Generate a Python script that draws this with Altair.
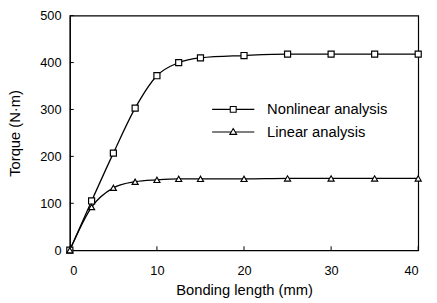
import altair as alt
import pandas as pd

# Data
bonding_length = [0, 2.5, 5, 7.5, 10, 12.5, 15, 20, 25, 30, 35, 40]
nonlinear_torque = [0, 105, 207, 303, 372, 400, 410, 415, 418, 418, 418, 418]
linear_torque = [0, 92, 133, 146, 150, 152, 152, 152, 153, 153, 153, 153]
series_names = ["Nonlinear analysis", "Linear analysis"]
x_ticks = [0, 10, 20, 30, 40]
y_ticks = [0, 100, 200, 300, 400, 500]

rows = []
for name, vals in zip(series_names, [nonlinear_torque, linear_torque]):
    for x, v in zip(bonding_length, vals):
        rows.append({"length": x, "torque": v, "series": name})
df = pd.DataFrame(rows)

FONT = "Liberation Sans"
W, H = 355, 239

xscale = alt.Scale(domain=[0, 40], nice=False)
yscale = alt.Scale(domain=[0, 500], nice=False)

x_axis = alt.Axis(title="Bonding length (mm)", values=x_ticks, grid=False,
                  tickSize=0, labelPadding=15, titlePadding=5,
                  labelFontSize=13, titleFontSize=15, titleFontWeight="normal",
                  labelFont=FONT, titleFont=FONT, domainColor="black",
                  labelColor="black", titleColor="black")
y_axis = alt.Axis(title="Torque (N·m)", values=y_ticks, grid=False,
                  tickSize=0, labelPadding=9, titlePadding=18,
                  labelFontSize=13, titleFontSize=15, titleFontWeight="normal",
                  labelFont=FONT, titleFont=FONT, domainColor="black",
                  labelColor="black", titleColor="black")

x_enc = alt.X("length:Q", scale=xscale, axis=x_axis)
y_enc = alt.Y("torque:Q", scale=yscale, axis=y_axis)

base = alt.Chart(df)

lines = base.mark_line(interpolate="monotone", color="black", strokeWidth=1.3).encode(
    x=x_enc, y=y_enc, detail="series:N"
)

points = base.mark_point(filled=True, fill="white", stroke="black", strokeWidth=1.2,
                         size=38, opacity=1).encode(
    x=x_enc, y=y_enc,
    shape=alt.Shape("series:N", sort=series_names,
                    scale=alt.Scale(domain=series_names, range=["square", "triangle-up"]),
                    legend=None),
)

legend_paths = [
    "M-4.3,0H-0.6M0.6,0H4.3M-0.6,-0.6H0.6V0.6H-0.6Z",
    "M-4.3,0H-0.41M0.41,0H4.3M0,-0.7L0.7,0.5H-0.7Z",
]

legend_layer = base.mark_point(opacity=0, filled=False).encode(
    x=x_enc, y=y_enc,
    shape=alt.Shape("series:N", sort=series_names,
                    scale=alt.Scale(domain=series_names, range=legend_paths),
                    legend=alt.Legend(title=None, orient="none", legendX=159, legendY=88,
                                      symbolSize=100, symbolStrokeColor="black",
                                      symbolFillColor="white", symbolStrokeWidth=1.1,
                                      symbolOpacity=1, labelFontSize=15, labelFont=FONT,
                                      labelColor="black", labelOffset=27, padding=0,
                                      rowPadding=7)),
)

xt = pd.DataFrame({"length": x_ticks})
yt = pd.DataFrame({"torque": y_ticks})
x_tick_marks = alt.Chart(xt).mark_rule(color="black", strokeWidth=1).encode(
    x=x_enc, y=alt.value(H), y2=alt.value(H - 4))
y_tick_marks = alt.Chart(yt).mark_rule(color="black", strokeWidth=1).encode(
    y=y_enc, x=alt.value(0), x2=alt.value(4))

chart = alt.layer(lines, x_tick_marks, y_tick_marks, points, legend_layer).resolve_scale(
    shape="independent"
).properties(
    width=W, height=H,
    autosize=alt.AutoSizeParams(type="none"),
    padding={"left": 63, "top": 5, "right": 11, "bottom": 52},
).configure_view(stroke="black", strokeWidth=1.2).configure_axis(domainWidth=1.2)

chart.save("out.html", embed_options={"renderer": "svg", "actions": False})
